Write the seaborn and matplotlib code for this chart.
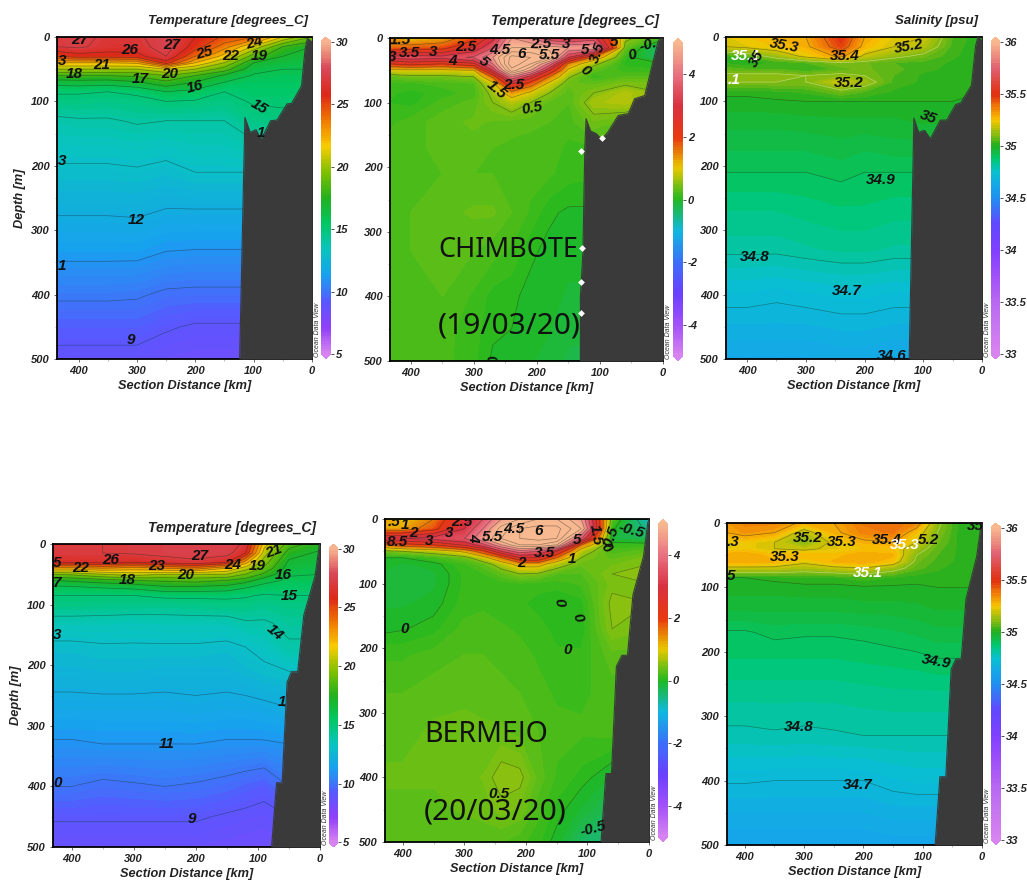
import numpy as np
import matplotlib
matplotlib.use('Agg')
import matplotlib.pyplot as plt
from matplotlib.path import Path
import seaborn as sns

sns.set_theme(style='ticks')
plt.rcParams['font.family'] = ['Liberation Sans', 'DejaVu Sans']

W, H = 1027, 882

# depth nodes shared by all the sections, one list per station below
depth = [0, 15, 30, 40, 50, 60, 70, 85, 100, 130, 170, 210, 270, 330, 400, 450, 500]

# CHIMBOTE temperature
dist1 = [437, 400, 350, 300, 250, 200, 150, 100, 50, 0]
temp1 = [
    [27.0, 27.0, 25.0, 22.0, 20.0, 18.0, 16.5, 15.1, 14.7, 13.8, 13.3, 12.85, 12.1, 11.3, 10.15, 9.4, 8.7],
    [27.3, 27.2, 25.5, 22.0, 20.0, 18.0, 16.6, 15.1, 14.7, 13.9, 13.3, 12.85, 12.1, 11.3, 10.15, 9.4, 8.7],
    [26.8, 26.6, 25.5, 22.0, 20.0, 18.0, 16.5, 15.0, 14.6, 13.9, 13.3, 12.85, 12.1, 11.3, 10.15, 9.4, 8.7],
    [26.8, 26.6, 25.6, 22.2, 20.0, 18.2, 16.9, 15.2, 14.7, 14.1, 13.4, 12.9, 12.15, 11.3, 10.1, 9.4, 8.7],
    [27.6, 27.5, 27.0, 25.5, 21.0, 19.0, 17.8, 16.0, 15.0, 14.0, 13.3, 12.75, 11.95, 11.05, 9.85, 9.1, 8.5],
    [26.0, 25.5, 24.0, 22.0, 20.0, 18.0, 17.0, 15.7, 14.9, 14.0, 13.5, 13.0, 11.95, 11.0, 9.8, 8.9, 8.4],
    [24.8, 23.5, 21.5, 20.0, 18.5, 16.8, 16.0, 15.0, 14.7, 14.0, 13.5, 13.0, 11.95, 11.0, 9.8, 8.9, 8.4],
    [24.0, 20.8, 18.5, 17.0, 16.3, 15.9, 15.6, 15.3, 15.1, 14.6, 13.8, 13.0, 11.95, 11.0, 9.8, 8.9, 8.4],
    [21.0, 18.0, 17.0, 16.5, 16.0, 15.8, 15.6, 15.3, 15.1, 14.8, 14.0, 13.0, 12.0, 11.0, 10.0, 9.0, 8.4],
    [19.0, 17.0, 16.5, 16.2, 16.0, 15.8, 15.6, 15.3, 15.1, 14.8, 14.0, 13.0, 12.0, 11.0, 10.0, 9.0, 8.4],
]
bath1_dist = [124, 115, 106, 96, 87, 71, 60, 43, 35, 18, 12, 8, 0]
bath1_depth = [500, 125, 148, 144, 159, 130, 129, 104, 103, 76, 20, 2, 8]
labels1 = [(398, 4, '27', 0), (312, 20, '26', 0), (240, 12, '27', 0), (184, 24, '25', 15), (140, 30, '22', 0),
           (98, 9, '24', 15), (90, 30, '19', 0), (429, 37, '3', 0), (360, 43, '21', 0), (408, 57, '18', 0),
           (295, 65, '17', 0), (244, 57, '20', 0), (200, 78, '16', 15), (91, 108, '15', -30), (88, 149, '1', 0),
           (429, 192, '3', 0), (302, 284, '12', 0), (429, 355, '1', 0), (311, 471, '9', 0)]

# CHIMBOTE anomaly
dist2 = [433, 400, 350, 300, 270, 240, 210, 180, 150, 110, 60, 0]
anom2 = [
    [1.3, 1.6, 3.2, 2.0, 0.9, 0.3, 0.15, 0.1, 0.08, 0.15, 0.2, 0.2, 0.25, 0.25, 0.25, 0.2, 0.2],
    [1.0, 1.7, 3.3, 2.2, 0.9, 0.4, 0.15, 0.05, 0.05, 0.2, 0.2, 0.22, 0.25, 0.25, 0.22, 0.2, 0.2],
    [1.2, 1.8, 3.2, 2.0, 0.9, 0.4, 0.2, 0.12, 0.2, 0.3, 0.3, 0.25, 0.3, 0.28, 0.25, 0.2, 0.2],
    [1.8, 2.6, 3.6, 2.4, 1.0, 0.5, 0.25, 0.2, 0.28, 0.35, 0.3, 0.25, 0.35, 0.25, 0.15, 0.12, 0.1],
    [2.8, 3.5, 4.5, 4.0, 3.0, 1.6, 0.9, 0.6, 0.5, 0.32, 0.25, 0.25, 0.35, 0.2, 0.05, 0.02, -0.02],
    [4.5, 5.0, 6.2, 6.4, 5.8, 4.0, 2.6, 1.3, 0.7, 0.3, 0.22, 0.22, 0.25, 0.15, 0.02, 0.0, -0.03],
    [4.0, 5.0, 6.0, 5.5, 4.5, 2.8, 1.8, 0.9, 0.5, 0.28, 0.2, 0.2, 0.15, 0.02, -0.03, -0.05, -0.08],
    [3.0, 4.8, 5.5, 3.8, 2.5, 1.5, 0.9, 0.5, 0.3, 0.25, 0.2, 0.18, 0.02, -0.03, -0.05, -0.08, -0.1],
    [2.8, 4.5, 3.0, 1.4, 0.9, 0.55, 0.35, 0.28, 0.25, 0.2, 0.15, 0.12, -0.02, -0.05, -0.1, -0.12, -0.2],
    [3.2, 4.5, 1.4, 0.6, 0.3, 0.1, 0.3, 0.5, 0.65, 0.4, 0.15, 0.1, -0.02, -0.05, -0.1, -0.15, -0.2],
    [0.6, 0.35, 0.1, 0.05, 0.12, 0.25, 0.45, 0.7, 0.7, 0.3, 0.15, 0.1, 0.0, -0.05, -0.1, -0.15, -0.2],
    [0.1, -0.5, -0.4, 0.0, 0.1, 0.25, 0.4, 0.5, 0.5, 0.3, 0.15, 0.1, 0.0, -0.05, -0.1, -0.15, -0.2],
]
bath2_dist = [131, 131, 127, 124, 122, 115, 106, 97, 87, 71, 55, 45, 29, 18, 8, 4, 0]
bath2_depth = [500, 400, 330, 170, 125, 144, 148, 157, 145, 120, 117, 94, 89, 45, 6, 0, 0]
labels2 = [(417, 3, '1.5', 0), (402, 23, '3.5', 0), (364, 22, '3', 0), (430, 30, '3', 0), (312, 14, '2.5', 0),
           (334, 35, '4', 0), (285, 37, '5', -40), (259, 18, '4.5', 0), (225, 24, '6', 0), (180, 27, '5.5', 0),
           (193, 9, '2.5', 0), (153, 10, '3', 0), (124, 18, '5', 0), (103, 22, '3.5', 70), (77, 6, '5', 0),
           (48, 27, '0', 15), (24, 10, '-0.', 15), (123, 51, '0', -40), (264, 80, '1.5', -40), (236, 73, '2.5', 0),
           (207, 109, '0.5', 10), (274, 498, '0', -80)]
gap_dist = [130, 128, 130, 130, 97]
gap_depth = [175, 325, 378, 425, 155]

# CHIMBOTE salinity
dist3 = [436, 400, 350, 300, 240, 200, 150, 100, 50, 0]
sal3 = [
    [35.22, 35.20, 35.02, 35.02, 35.06, 35.12, 35.10, 35.01, 34.99, 34.96, 34.93, 34.90, 34.85, 34.81, 34.72, 34.67, 34.62],
    [35.25, 35.22, 35.05, 35.00, 35.05, 35.12, 35.10, 35.01, 34.99, 34.96, 34.93, 34.90, 34.85, 34.81, 34.72, 34.67, 34.62],
    [35.28, 35.25, 35.13, 35.03, 35.05, 35.12, 35.10, 35.02, 34.995, 34.96, 34.93, 34.90, 34.85, 34.81, 34.71, 34.67, 34.62],
    [35.30, 35.28, 35.22, 35.05, 35.02, 35.10, 35.10, 35.03, 35.00, 34.965, 34.93, 34.90, 34.86, 34.82, 34.72, 34.67, 34.62],
    [35.50, 35.46, 35.32, 35.10, 35.06, 35.12, 35.20, 35.08, 35.00, 34.97, 34.94, 34.91, 34.87, 34.83, 34.73, 34.68, 34.63],
    [35.30, 35.27, 35.18, 35.08, 35.08, 35.10, 35.14, 35.05, 35.00, 34.97, 34.93, 34.90, 34.87, 34.83, 34.73, 34.68, 34.63],
    [35.22, 35.20, 35.12, 35.05, 35.06, 35.05, 35.04, 35.02, 35.00, 34.97, 34.94, 34.90, 34.86, 34.82, 34.72, 34.67, 34.62],
    [35.20, 35.16, 35.08, 35.04, 35.03, 35.02, 35.02, 35.01, 35.00, 34.98, 34.94, 34.90, 34.86, 34.82, 34.72, 34.67, 34.62],
    [35.05, 35.04, 35.03, 35.02, 35.02, 35.02, 35.01, 35.01, 35.00, 34.98, 34.94, 34.90, 34.86, 34.82, 34.72, 34.67, 34.62],
    [35.00, 35.00, 35.00, 35.00, 35.00, 35.00, 35.00, 35.00, 35.00, 34.98, 34.94, 34.90, 34.86, 34.82, 34.72, 34.67, 34.62],
]
bath3_dist = [124, 116, 108, 98, 88, 71, 60, 45, 36, 18, 11, 7, 0]
bath3_depth = [500, 126, 148, 145, 158, 129, 129, 105, 102, 75, 14, 0, 6]
labels3 = [(336, 13, '35.3', -10), (125, 14, '35.2', 10), (234, 30, '35.4', 0), (402, 29, '35.1', 0),
           (384, 34, '35', 60), (423, 66, '.1', 0), (227, 72, '35.2', 0), (92, 124, '35', -20), (172, 222, '34.9', 0),
           (387, 341, '34.8', 0), (231, 395, '34.7', 0), (153, 496, '34.6', 0)]

# BERMEJO temperature
dist4 = [430, 400, 350, 300, 250, 200, 150, 120, 90, 50, 0]
temp4 = [
    [27.0, 27.0, 26.2, 22.5, 19.0, 17.0, 15.9, 15.0, 14.7, 13.6, 12.8, 12.4, 11.7, 10.9, 10.0, 9.1, 8.5],
    [27.0, 27.0, 26.2, 22.5, 19.2, 17.2, 16.0, 15.0, 14.7, 13.6, 12.8, 12.4, 11.7, 10.9, 10.0, 9.1, 8.5],
    [27.0, 27.0, 26.3, 23.0, 20.0, 17.6, 16.2, 15.0, 14.6, 13.6, 12.9, 12.5, 11.7, 11.0, 9.8, 9.1, 8.5],
    [27.1, 27.1, 26.0, 22.5, 20.5, 18.0, 16.4, 15.0, 14.6, 13.5, 12.9, 12.5, 11.7, 11.0, 9.9, 9.1, 8.5],
    [27.3, 27.3, 26.5, 23.0, 20.0, 18.2, 17.0, 15.2, 14.5, 13.6, 12.9, 12.4, 11.7, 11.0, 10.0, 9.1, 8.5],
    [27.4, 27.4, 26.8, 23.5, 20.0, 18.4, 17.0, 15.2, 14.6, 13.6, 12.9, 12.4, 11.8, 11.0, 9.9, 9.1, 8.5],
    [27.5, 27.4, 26.0, 22.0, 20.0, 18.0, 16.8, 15.2, 14.7, 13.6, 12.8, 12.4, 11.7, 10.9, 9.7, 8.9, 8.4],
    [26.8, 26.0, 22.5, 20.5, 19.0, 17.5, 16.2, 15.1, 14.7, 13.9, 13.0, 12.6, 11.7, 10.9, 9.5, 8.8, 8.3],
    [21.5, 20.5, 19.5, 18.8, 17.8, 16.4, 15.7, 14.9, 14.5, 13.9, 13.3, 12.8, 11.8, 10.9, 9.3, 8.7, 8.3],
    [18.5, 17.5, 16.8, 16.5, 16.1, 15.8, 15.5, 15.0, 14.7, 14.2, 13.9, 13.0, 12.0, 11.0, 10.0, 9.0, 8.4],
    [17.5, 16.8, 16.5, 16.2, 16.0, 15.8, 15.5, 15.0, 14.7, 14.2, 13.9, 13.0, 12.0, 11.0, 10.0, 9.0, 8.4],
]
bath4_dist = [78, 70, 61, 53, 46, 36, 26, 8, 1, 0]
bath4_depth = [500, 394, 394, 228, 211, 211, 117, 53, 1, 0]
labels4 = [(423, 32, '5', 0), (385, 40, '22', 0), (337, 26, '26', 0), (263, 37, '23', 0), (193, 20, '27', 0),
           (217, 51, '20', 0), (140, 34, '24', 0), (101, 37, '19', 0), (74, 12, '21', 20), (423, 64, '7', 0),
           (310, 59, '18', 0), (59, 51, '16', 0), (50, 86, '15', 0), (72, 146, '14', -40), (423, 150, '3', 0),
           (62, 260, '1', 0), (247, 330, '11', 0), (423, 394, '0', 0), (207, 454, '9', 0)]

# BERMEJO anomaly
dist5 = [429, 400, 350, 300, 270, 240, 210, 180, 150, 110, 60, 0]
anom5 = [
    [1.3, 1.2, 3.0, 1.5, 0.4, 0.0, -0.05, -0.1, -0.1, -0.1, -0.03, 0.15, 0.25, 0.3, 0.35, 0.3, 0.25],
    [1.0, 1.2, 3.0, 1.8, 0.5, 0.0, -0.1, -0.12, -0.12, -0.1, -0.01, 0.15, 0.25, 0.3, 0.35, 0.3, 0.25],
    [1.5, 1.8, 3.2, 2.0, 0.7, 0.15, -0.05, -0.1, -0.1, -0.05, 0.05, 0.2, 0.3, 0.35, 0.35, 0.3, 0.25],
    [2.8, 3.0, 3.5, 2.6, 1.1, 0.35, 0.15, 0.1, 0.1, 0.12, 0.2, 0.25, 0.3, 0.38, 0.4, 0.35, 0.25],
    [3.5, 4.0, 4.5, 3.3, 1.8, 0.8, 0.3, 0.15, 0.12, 0.15, 0.2, 0.25, 0.3, 0.35, 0.42, 0.38, 0.25],
    [4.5, 5.2, 5.5, 4.5, 3.0, 1.5, 0.7, 0.3, 0.12, 0.12, 0.18, 0.22, 0.28, 0.35, 0.58, 0.45, 0.25],
    [5.0, 6.0, 6.0, 5.5, 3.8, 2.5, 1.2, 0.5, 0.15, 0.1, 0.15, 0.2, 0.25, 0.3, 0.55, 0.4, 0.2],
    [5.5, 6.2, 6.2, 5.5, 3.5, 2.5, 1.2, 0.45, 0.12, 0.05, 0.12, 0.15, 0.2, 0.25, 0.3, 0.2, 0.1],
    [5.5, 6.2, 6.0, 5.0, 2.5, 1.5, 0.7, 0.25, 0.12, 0.0, 0.05, 0.1, 0.15, 0.2, 0.15, 0.05, -0.05],
    [4.5, 5.0, 3.5, 1.5, 0.7, 0.5, 0.35, 0.25, 0.18, 0.05, 0.02, 0.1, 0.15, 0.18, 0.05, -0.1, -0.35],
    [0.3, 0.05, -0.15, 0.1, 0.2, 0.3, 0.4, 0.5, 0.45, 0.55, 0.5, 0.3, 0.2, 0.2, -0.1, -0.3, -0.5],
    [-0.9, -0.6, -0.3, 0.1, 0.3, 0.45, 0.5, 0.55, 0.5, 0.5, 0.4, 0.3, 0.2, 0.2, 0.0, -0.2, -0.4],
]
bath5_dist = [78, 70, 61, 53, 44, 35, 26, 9, 2, 0]
bath5_depth = [500, 394, 394, 228, 211, 211, 117, 58, 6, 0]
labels5 = [(415, 4, '.5', 0), (396, 10, '1', 0), (383, 22, '2', 0), (409, 35, '8.5', 0), (357, 34, '3', 0),
           (325, 21, '3', 0), (304, 5, '2.5', 0), (285, 28, '4', -90), (255, 28, '5.5', 0), (220, 15, '4.5', 0),
           (179, 19, '6', 0), (117, 32, '5', 0), (87, 24, '1.5', -80), (62, 27, '0.5', 70), (69, 45, '0', -50),
           (28, 18, '-0.5', -15), (169, 53, '3.5', 0), (207, 68, '2', 0), (125, 62, '1', 0), (146, 129, '0', -80),
           (116, 153, '0', -70), (397, 171, '0', 0), (132, 203, '0', 0), (243, 425, '0.5', 0), (91, 479, '-0.5', 15)]

# BERMEJO salinity
dist6 = [430, 400, 350, 300, 250, 200, 150, 110, 75, 40, 0]
sal6 = [
    [35.32, 35.30, 35.22, 35.22, 35.30, 35.30, 35.18, 35.00, 34.985, 34.96, 34.895, 34.875, 34.83, 34.79, 34.705, 34.65, 34.60],
    [35.36, 35.33, 35.24, 35.24, 35.30, 35.30, 35.18, 35.00, 34.985, 34.96, 34.895, 34.875, 34.83, 34.79, 34.705, 34.65, 34.60],
    [35.36, 35.30, 35.20, 35.20, 35.26, 35.28, 35.18, 35.01, 34.985, 34.96, 34.91, 34.875, 34.83, 34.795, 34.70, 34.65, 34.60],
    [35.28, 35.16, 35.10, 35.18, 35.27, 35.22, 35.15, 35.02, 34.99, 34.96, 34.905, 34.875, 34.83, 34.79, 34.70, 34.65, 34.60],
    [35.30, 35.28, 35.22, 35.22, 35.26, 35.28, 35.18, 35.02, 34.99, 34.96, 34.905, 34.875, 34.83, 34.795, 34.70, 34.65, 34.60],
    [35.38, 35.36, 35.28, 35.25, 35.30, 35.30, 35.20, 35.04, 34.995, 34.965, 34.91, 34.88, 34.835, 34.80, 34.70, 34.65, 34.60],
    [35.40, 35.38, 35.30, 35.25, 35.28, 35.25, 35.14, 35.02, 34.995, 34.965, 34.92, 34.885, 34.84, 34.80, 34.72, 34.66, 34.61],
    [35.35, 35.25, 35.20, 35.14, 35.10, 35.08, 35.06, 35.01, 34.995, 34.97, 34.93, 34.89, 34.84, 34.80, 34.73, 34.66, 34.61],
    [35.12, 35.10, 35.08, 35.06, 35.05, 35.04, 35.03, 35.01, 35.00, 34.98, 34.94, 34.90, 34.84, 34.80, 34.73, 34.66, 34.61],
    [35.02, 35.02, 35.02, 35.02, 35.02, 35.02, 35.01, 35.01, 35.00, 34.98, 34.94, 34.90, 34.84, 34.80, 34.73, 34.66, 34.61],
    [35.02, 35.02, 35.02, 35.02, 35.02, 35.02, 35.01, 35.01, 35.00, 34.98, 34.94, 34.90, 34.84, 34.80, 34.73, 34.66, 34.61],
]
bath6_dist = [79, 71, 61, 52, 44, 35, 27, 9, 1, 0]
bath6_depth = [500, 394, 394, 227, 211, 211, 118, 52, 0, 0]
labels6 = [(419, 30, '.3', 0), (294, 23, '35.2', 0), (236, 30, '35.3', 0), (161, 26, '35.4', 0), (130, 34, '35.3', 0),
           (91, 27, '5.2', 0), (333, 53, '35.3', 0), (192, 78, '35.1', 0), (423, 83, '5', 0), (12, 5, '35', 0),
           (77, 215, '34.9', -10), (309, 316, '34.8', 0), (209, 407, '34.7', 0)]

# colour stops, evenly spaced over each colour bar
temp_colors = ['#d884f0', '#9040f8', '#5858ff', '#18a0f0', '#08c4c0', '#00c864', '#22b01e',
               '#80c000', '#f8cc00', '#f07800', '#dc2818', '#d84858', '#f8b490']
anom_colors = ['#d884f0', '#a050f8', '#6a40ff', '#3a70f8', '#10b8e0', '#20b820', '#e8c800',
               '#e83810', '#d83040', '#e87080', '#f8b890']
sal_colors = ['#d884f0', '#d07cf0', '#c878f0', '#c070f0', '#b868f0', '#ac5cf4', '#a050f8', '#9048fc', '#8040ff',
              '#7044ff', '#6048ff', '#406cf8', '#2090f0', '#14a8e8', '#08c0d0', '#00c870', '#20b020', '#90bc10',
              '#f8c800', '#f07c08', '#e03010', '#e04840', '#e06070', '#ec8c80', '#f8b890']

temp_levels = list(range(9, 28))
anom_levels = [-0.5, 0, 0.5, 1, 1.5, 2, 2.5, 3, 3.5, 4, 4.5, 5, 5.5, 6]
sal_levels = [34.6, 34.7, 34.8, 34.9, 35, 35.1, 35.2, 35.3, 35.4, 35.5]

temp_ticks = [5, 10, 15, 20, 25, 30]
anom_ticks = [-4, -2, 0, 2, 4]
sal_ticks = [33, 33.5, 34, 34.5, 35, 35.5, 36]
sal_ticklabels = ['33', '33.5', '34', '34.5', '35', '35.5', '36']


def px_box(x0, x1, y0, y1):
    return [x0 / W, 1 - y1 / H, (x1 - x0) / W, (y1 - y0) / H]


def section(box, cbar_x, dist, values, bath_d, bath_z, labels, colors, levels, vmin, vmax, ticks, title,
            ylabel=False, ticklabels=None, white_level=None, white_labels=(), title_size=10):
    x0, x1, y0, y1 = box
    ax = fig.add_axes(px_box(x0, x1, y0, y1))
    cax = fig.add_axes(px_box(cbar_x[0], cbar_x[1], y0, y1))

    cmap = sns.blend_palette(colors, n_colors=256, as_cmap=True)
    cmap.set_over(colors[-1])
    cmap.set_under(colors[0])
    grid = np.array(values).T
    cf = ax.contourf(dist, depth, grid, levels=np.linspace(vmin, vmax, 121), cmap=cmap, extend='both')
    line_colors = ['#f4f4d8' if lv == white_level else '#1a2a20' for lv in levels]
    cs = ax.contour(dist, depth, grid, levels=levels, colors=line_colors, linewidths=0.5, alpha=0.45)

    # holes in the contour lines behind the labels
    verts = [(dist[0] + 5, -5), (-5, -5), (-5, 505), (dist[0] + 5, 505), (dist[0] + 5, -5)]
    codes = [Path.MOVETO, Path.LINETO, Path.LINETO, Path.LINETO, Path.CLOSEPOLY]
    for d, z, txt, rot in labels:
        hw, hh = len(txt) * 6 + 3, 8
        verts += [(d - hw, z - hh), (d - hw, z + hh), (d + hw, z + hh), (d + hw, z - hh), (d - hw, z - hh)]
        codes += [Path.MOVETO, Path.LINETO, Path.LINETO, Path.LINETO, Path.CLOSEPOLY]
    cs.set_clip_path(Path(verts, codes), ax.transData)

    ax.fill_between(bath_d, bath_z, 500, color='#3a3a3a', lw=0, zorder=3)
    sns.lineplot(x=bath_d, y=bath_z, color='#3a3a3a', lw=0.8, sort=False, estimator=None, legend=False, ax=ax, zorder=3)

    for d, z, txt, rot in labels:
        col = 'white' if (d, z) in white_labels else '#111111'
        ax.text(d, z, txt, ha='center', va='center', rotation=rot, color=col, fontsize=11, fontweight='bold',
                fontstyle='italic', clip_on=True, zorder=4)

    ax.set_xlim(dist[0], 0)
    ax.set_ylim(500, 0)
    ax.set_xticks([400, 300, 200, 100, 0])
    ax.set_xticks([350, 250, 150, 50], minor=True)
    ax.set_yticks([0, 100, 200, 300, 400, 500])
    ax.set_yticks([50, 150, 250, 350, 450], minor=True)
    ax.tick_params(axis='both', which='major', length=2.5, width=0.6, color='#555555', pad=2.5, labelsize=8, labelcolor='#222222')
    ax.tick_params(axis='both', which='minor', length=1.5, width=0.4, color='#888888')
    for t in ax.get_xticklabels() + ax.get_yticklabels():
        t.set_fontweight('bold')
        t.set_fontstyle('italic')
    for s in ax.spines.values():
        s.set_color('black')
        s.set_linewidth(1.3)
    ax.spines['right'].set_linewidth(0.6)
    ax.set_xlabel('Section Distance [km]', fontsize=9.2, fontweight='bold', fontstyle='italic', color='#222222', labelpad=3)
    if ylabel:
        ax.set_ylabel('Depth [m]', fontsize=9.2, fontweight='bold', fontstyle='italic', color='#222222', labelpad=4)
    else:
        ax.set_ylabel('')
    ax.text(0.985, 1.03, title, transform=ax.transAxes, ha='right', va='bottom', fontsize=title_size, fontweight='bold',
            fontstyle='italic', color='#222222')

    cbar = fig.colorbar(cf, cax=cax, extendfrac=0.016)
    cbar.outline.set_visible(False)
    cbar.set_ticks(ticks, labels=ticklabels if ticklabels else [str(t) for t in ticks])
    cbar.ax.minorticks_off()
    cbar.ax.tick_params(length=2, width=0.6, color='#333333', pad=1.5, labelsize=8, labelcolor='#222222')
    for t in cbar.ax.get_yticklabels():
        t.set_fontweight('bold')
        t.set_fontstyle('italic')

    fig.text((x1 + 5.5) / W, 1 - (y1 - 2) / H, 'Ocean Data View', rotation=90, ha='center', va='bottom',
             fontsize=5, fontstyle='italic', color='#333333')
    return ax


fig = plt.figure(figsize=(W / 100, H / 100), dpi=100, facecolor='white')

section((57, 312, 37, 359), (321, 331), dist1, temp1, bath1_dist, bath1_depth, labels1, temp_colors, temp_levels,
        5, 30, temp_ticks, 'Temperature [degrees_C]', ylabel=True, title_size=9.5)
ax2 = section((390, 663, 38, 361), (673, 683), dist2, anom2, bath2_dist, bath2_depth, labels2, anom_colors, anom_levels,
              -5, 5, anom_ticks, 'Temperature [degrees_C]')
sns.scatterplot(x=gap_dist, y=gap_depth, color='white', marker='D', s=12, linewidth=0, legend=False, ax=ax2, zorder=3.5)
section((726, 982, 37, 359), (991, 1000), dist3, sal3, bath3_dist, bath3_depth, labels3, sal_colors, sal_levels,
        33, 36, sal_ticks, 'Salinity [psu]', ticklabels=sal_ticklabels, white_level=35.1,
        white_labels=[(402, 29), (423, 66)], title_size=9.5)
section((53, 320, 544, 847), (329, 338), dist4, temp4, bath4_dist, bath4_depth, labels4, temp_colors, temp_levels,
        5, 30, temp_ticks, 'Temperature [degrees_C]', ylabel=True)
section((385, 649, 519, 842), (658, 668), dist5, anom5, bath5_dist, bath5_depth, labels5, anom_colors, anom_levels,
        -5, 5, anom_ticks, '')
section((727, 982, 523, 845), (991, 1001), dist6, sal6, bath6_dist, bath6_depth, labels6, sal_colors, sal_levels,
        33, 36, sal_ticks, '', ticklabels=sal_ticklabels, white_level=35.1, white_labels=[(130, 34), (192, 78)])

# station names written over the anomaly panels
place_kw = dict(color='#111111', family='Noto Sans', ha='left', va='center')
fig.text(438 / W, 1 - 250 / H, 'CHIMBOTE', fontsize=19.5, **place_kw)
fig.text(438 / W, 1 - 326 / H, '(19/03/20)', fontsize=21.5, **place_kw)
fig.text(424 / W, 1 - 734 / H, 'BERMEJO', fontsize=20.5, **place_kw)
fig.text(424 / W, 1 - 812 / H, '(20/03/20)', fontsize=21.5, **place_kw)

plt.savefig('out.png', dpi=100)
